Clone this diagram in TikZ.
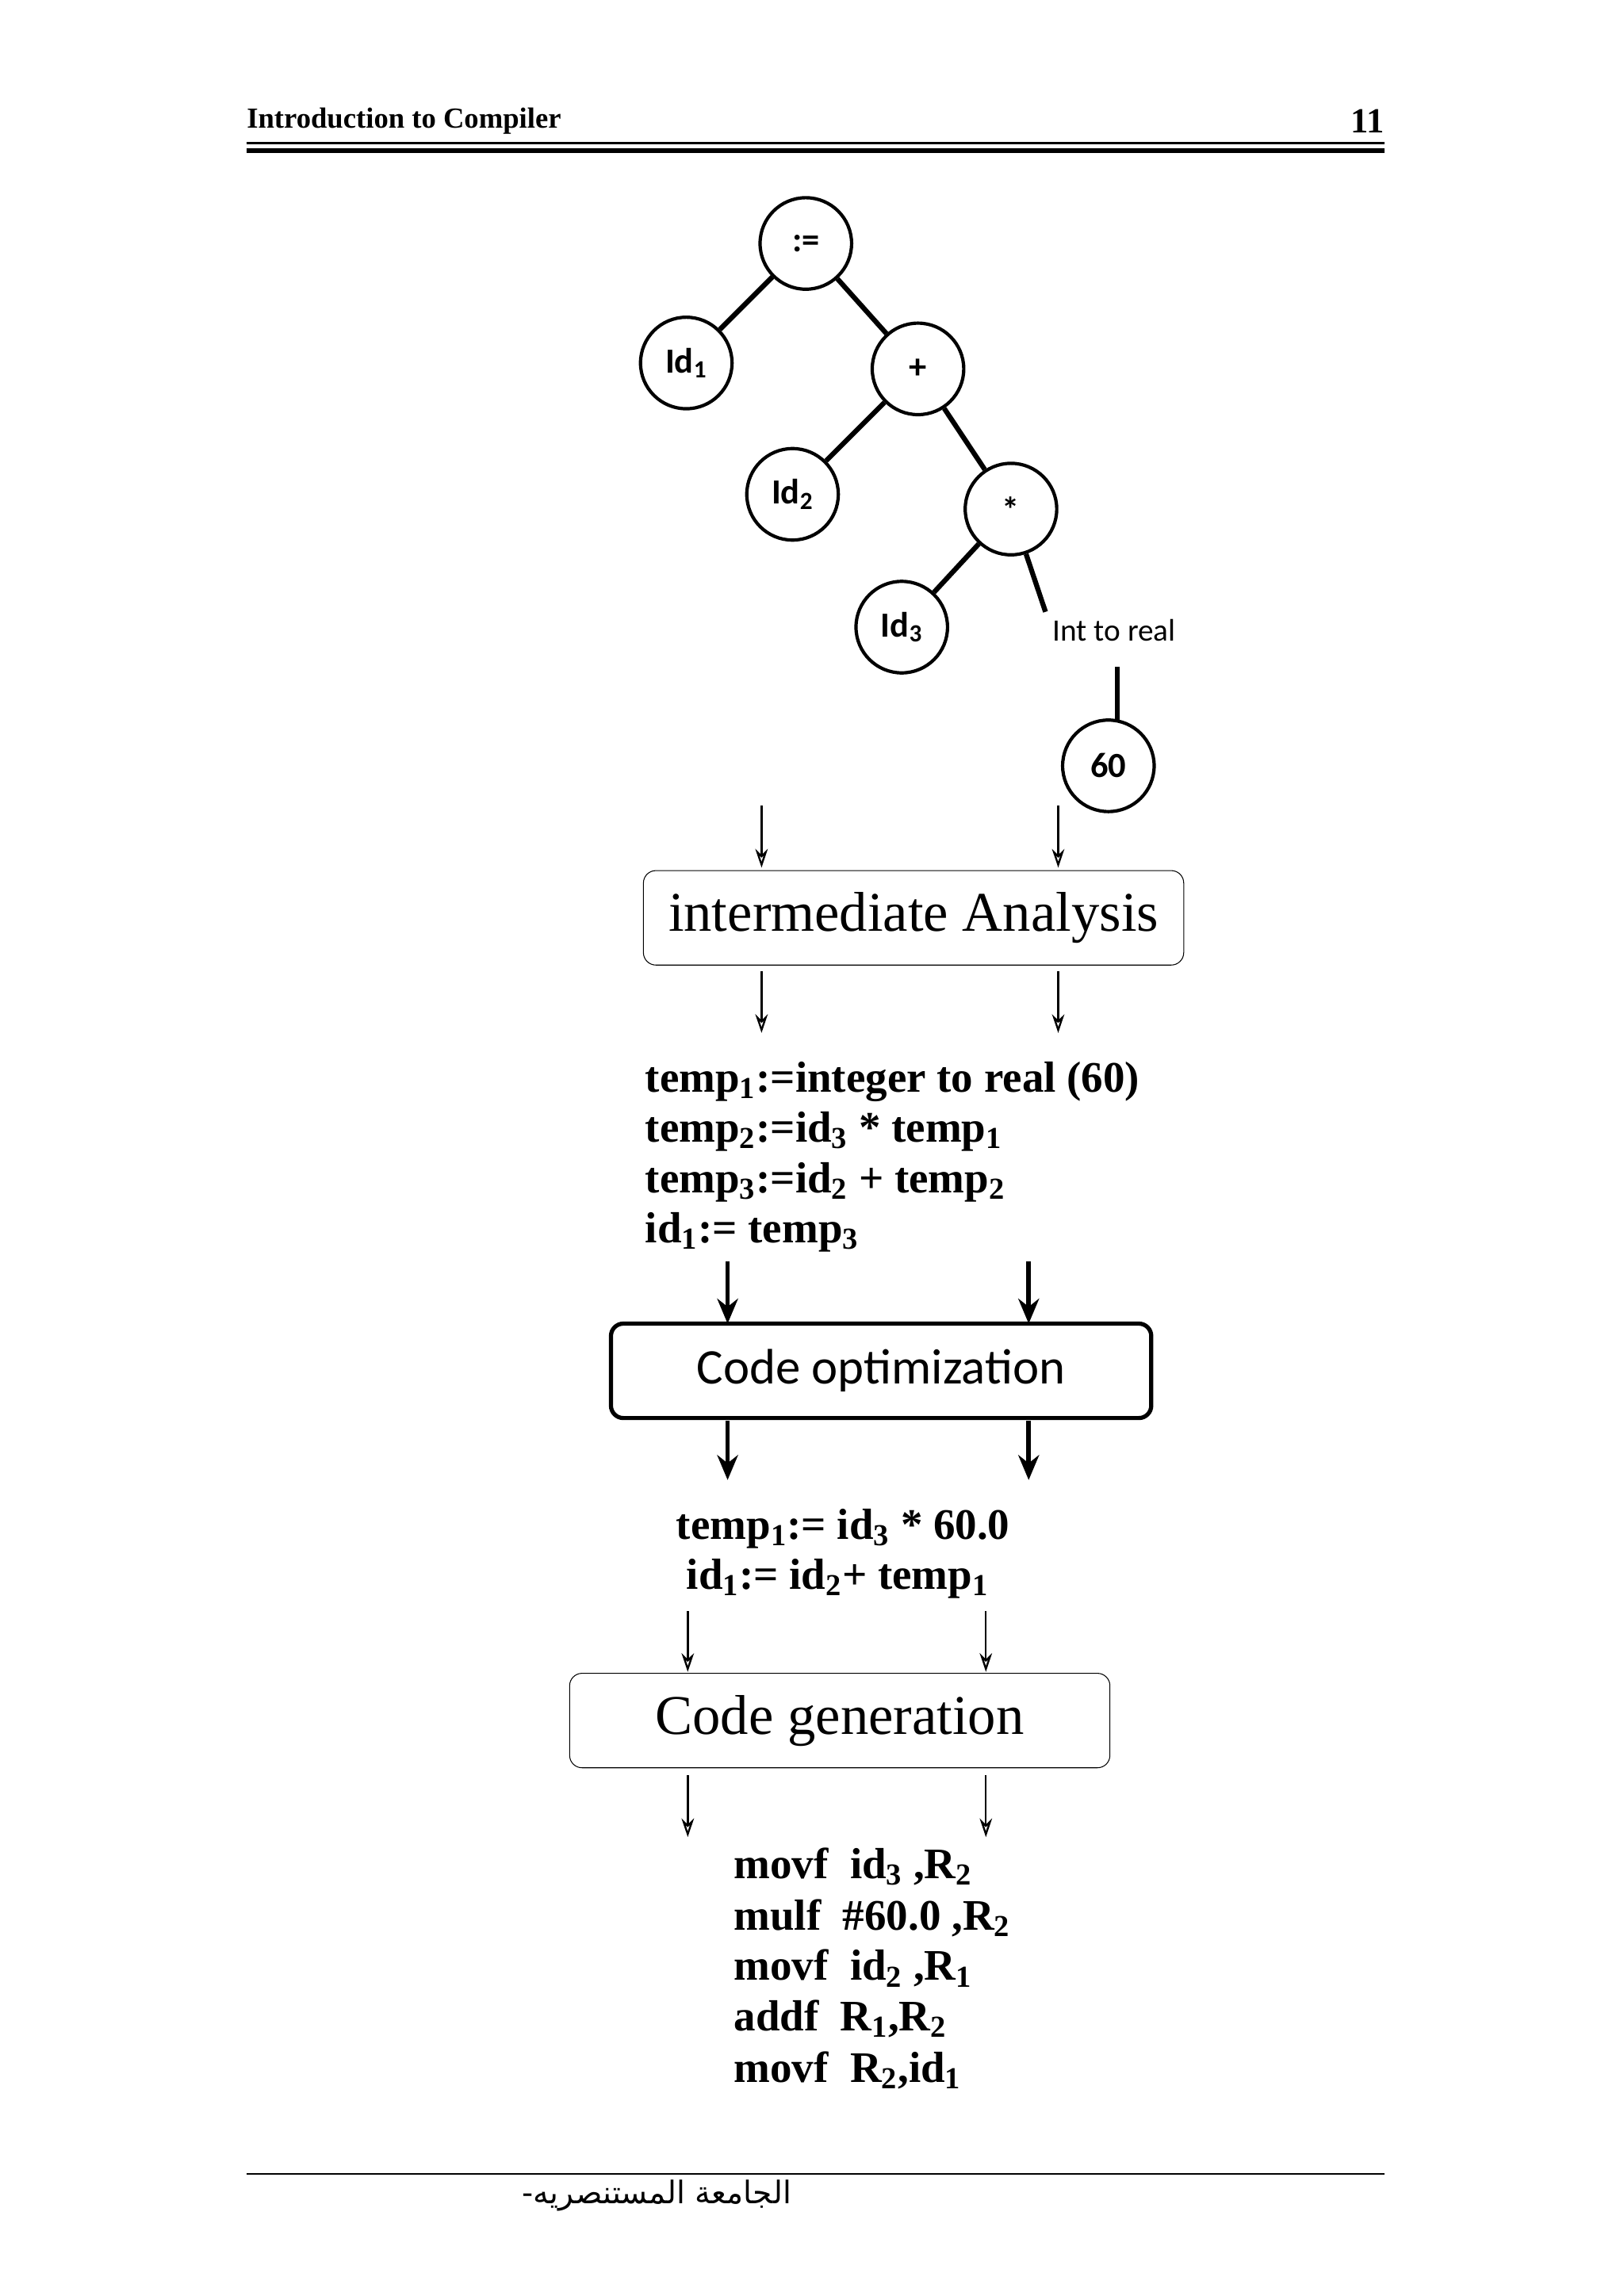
\documentclass[tikz,border=0pt]{standalone}
\usepackage{fontspec}
\setmainfont{Liberation Serif}
\newfontfamily\carlito{Carlito}
\newfontfamily\arab[Script=Arabic]{DejaVu Sans}
\usetikzlibrary{arrows.meta,positioning}
\begin{document}
\begin{tikzpicture}[x=0.025cm,y=-0.025cm,
  tnode/.style={circle,draw,line width=1.6pt,minimum size=1.55cm,inner sep=0pt,font=\carlito\bfseries\fontsize{17}{17}\selectfont},
  edge/.style={line width=2.4pt},
  thin arrow/.style={-{Stealth[length=9pt,width=6pt,open]},line width=0.9pt},
  bold arrow/.style={-{Stealth[length=12pt,width=10pt]},line width=2.2pt},
  stage/.style={draw,rounded corners=6pt,minimum width=9.15cm,minimum height=1.6cm},
  code/.style={anchor=west,font=\bfseries\fontsize{21}{21}\selectfont,inner sep=0pt}]
\useasboundingbox (0,0) rectangle (1100,1556);
% header and footer
\node[anchor=west,font=\bfseries\fontsize{14}{14}\selectfont,inner sep=0pt] (title) at (167,82) {Introduction to Compiler};
\node[anchor=east,font=\bfseries\fontsize{17}{17}\selectfont,inner sep=0pt] (page) at (938,82) {11};
\draw[line width=0.8pt] (167,97) -- (938,97);
\draw[line width=2.4pt] (167,102) -- (938,102);
\draw[line width=0.8pt] (167,1473) -- (938,1473);
\node[font=\arab\fontsize{15}{15}\selectfont,inner sep=0pt] (uni) at (445,1488) {\TeXXeTstate=1\beginR الجامعة المستنصريه-\endR};
% syntax tree
\node[tnode] (assign) at (546,165) {:=};
\node[tnode] (id1) at (465,246) {Id\textsubscript{1}};
\node[tnode] (plus) at (622,250) {+};
\node[tnode] (id2) at (537,335) {Id\textsubscript{2}};
\node[tnode] (mul) at (685,345) {*};
\node[tnode] (id3) at (611,425) {Id\textsubscript{3}};
\node[font=\carlito\fontsize{15}{15}\selectfont] (conv) at (755,427) {Int to real};
\node[tnode] (sixty) at (751,519) {60};
\draw[edge] (assign) -- (id1);
\draw[edge] (assign) -- (plus);
\draw[edge] (plus) -- (id2);
\draw[edge] (plus) -- (mul);
\draw[edge] (mul) -- (id3);
\draw[edge] (mul) -- (conv.north west);
\draw[edge] (757,452) -- (757,488);
% intermediate code
\node[stage,font=\fontsize{27}{27}\selectfont] (inter) at (619,622) {intermediate Analysis};
\foreach \x in {516,717} {
  \draw[thin arrow] (\x,546) -- (\x,588);
  \draw[thin arrow] (\x,658) -- (\x,700);
}
\node[code] (t1) at (437,733) {temp\textsubscript{1}:=integer to real (60)};
\node[code] (t2) at (437,767) {temp\textsubscript{2}:=id\textsubscript{3} * temp\textsubscript{1}};
\node[code] (t3) at (437,801) {temp\textsubscript{3}:=id\textsubscript{2} + temp\textsubscript{2}};
\node[code] (t4) at (437,835) {id\textsubscript{1}:= temp\textsubscript{3}};
% optimization
\node[stage,line width=2pt,font=\carlito\fontsize{24}{24}\selectfont] (opt) at (597,929) {Code optimization};
\foreach \x in {493,697} {
  \draw[bold arrow] (\x,855) -- (\x,897);
  \draw[bold arrow] (\x,963) -- (\x,1003);
}
\node[code] (o1) at (458,1036) {temp\textsubscript{1}:= id\textsubscript{3} * 60.0};
\node[code] (o2) at (465,1070) {id\textsubscript{1}:= id\textsubscript{2}+ temp\textsubscript{1}};
% generation
\node[stage,font=\fontsize{27}{27}\selectfont] (gen) at (569,1166) {Code generation};
\foreach \x in {466,668} {
  \draw[thin arrow] (\x,1092) -- (\x,1133);
  \draw[thin arrow] (\x,1203) -- (\x,1245);
}
\node[code] (g1) at (497,1265) {movf\ \ id\textsubscript{3} ,R\textsubscript{2}};
\node[code] (g2) at (497,1300) {mulf\ \ \#60.0 ,R\textsubscript{2}};
\node[code] (g3) at (497,1334) {movf\ \ id\textsubscript{2} ,R\textsubscript{1}};
\node[code] (g4) at (497,1368) {addf\ \ R\textsubscript{1},R\textsubscript{2}};
\node[code] (g5) at (497,1403) {movf\ \ R\textsubscript{2},id\textsubscript{1}};
\end{tikzpicture}
\end{document}
